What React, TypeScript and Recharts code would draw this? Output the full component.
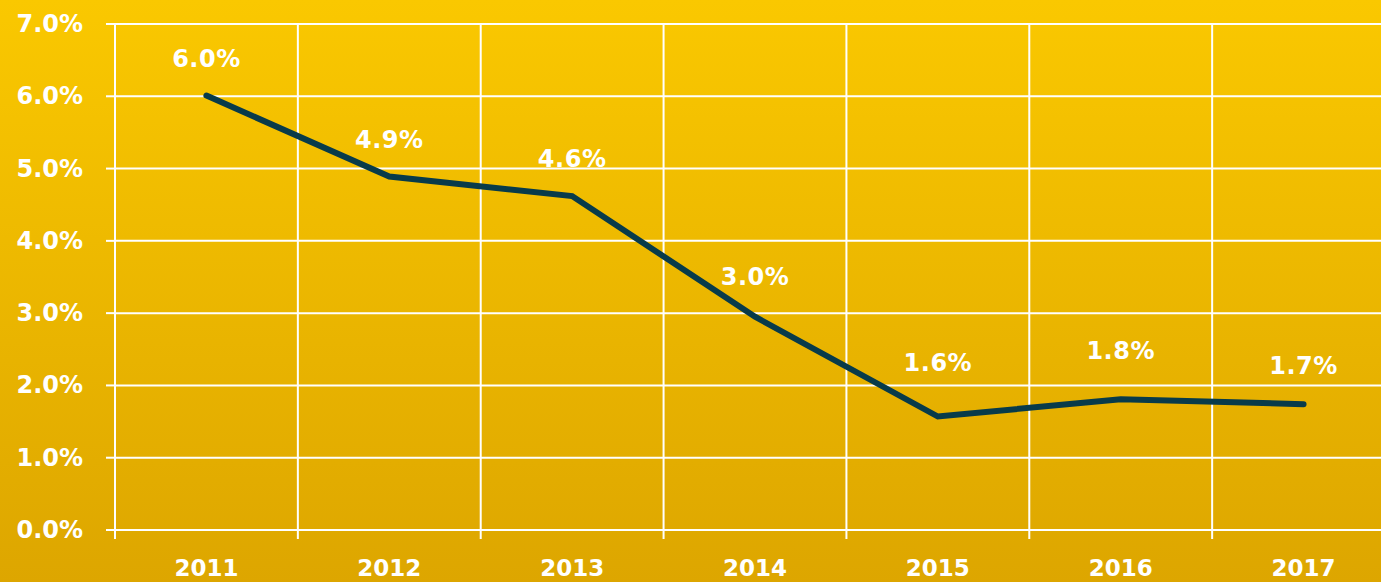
import { LineChart, Line, XAxis, YAxis, CartesianGrid, LabelList } from 'recharts';

const years = ['2011', '2012', '2013', '2014', '2015', '2016', '2017'];
const rates = [6.01, 4.89, 4.62, 2.95, 1.57, 1.81, 1.74];
const rateLabels = ['6.0%', '4.9%', '4.6%', '3.0%', '1.6%', '1.8%', '1.7%'];
const yTicks = [0, 1, 2, 3, 4, 5, 6, 7];

// how far each value label sits above its point (px)
const labelLift = [37, 37, 37, 40, 54, 48, 38];

const data = years.map((year, i) => ({ year, rate: rates[i], label: rateLabels[i] }));

const FONT = '"DejaVu Sans", sans-serif';
const WHITE = '#ffffff';

// grid lines on the band edges, not the band centres
function bandEdges({ offset }: any) {
  const band = offset.width / years.length;
  return years.map((_, i) => offset.left + i * band).concat(offset.left + offset.width);
}

function YearTick({ x, y, payload, width, visibleTicksCount }: any) {
  const half = typeof payload?.offset === 'number' && payload.offset > 0 ? payload.offset : width / visibleTicksCount / 2;
  const edge = x - half;
  const axisY = y - 29;
  return (
    <g>
      <line x1={edge} x2={edge} y1={axisY} y2={axisY + 9} stroke={WHITE} strokeWidth={2} />
      <text x={x} y={y + 17} textAnchor="middle" fill={WHITE} fontSize={23} fontWeight={700} fontFamily={FONT}>
        {payload.value}
      </text>
    </g>
  );
}

function RateTick({ x, y, payload }: any) {
  return (
    <text x={x} y={y} textAnchor="end" dominantBaseline="central" fill={WHITE} fontSize={24} fontWeight={700} fontFamily={FONT}>
      {`${Number(payload.value).toFixed(1)}%`}
    </text>
  );
}

function ValueLabel({ x, y, index, value }: any) {
  return (
    <text
      x={x}
      y={y - labelLift[index]}
      textAnchor="middle"
      dominantBaseline="central"
      fill={WHITE}
      fontSize={24}
      fontWeight={700}
      fontFamily={FONT}
      letterSpacing={0.5}
    >
      {value}
    </text>
  );
}

export default function App() {
  return (
    <div
      style={{
        position: 'absolute',
        left: 0,
        top: 0,
        width: 1381,
        height: 582,
        overflow: 'hidden',
        background: 'linear-gradient(180deg, #FAC800 0%, #DDA600 100%)',
      }}
    >
      <LineChart width={1400} height={582} data={data} margin={{ top: 24, right: 5, bottom: 0, left: 0 }}>
        <CartesianGrid stroke={WHITE} strokeWidth={2} verticalCoordinatesGenerator={bandEdges} />
        <XAxis
          dataKey="year"
          scale="band"
          tick={<YearTick />}
          tickLine={false}
          axisLine={false}
          tickSize={0}
          tickMargin={29}
          height={52}
          interval={0}
        />
        <YAxis
          domain={[0, 7]}
          ticks={yTicks}
          tick={<RateTick />}
          tickLine={{ stroke: WHITE, strokeWidth: 2 }}
          tickSize={9}
          tickMargin={23}
          axisLine={false}
          width={115}
        />
        <Line
          type="linear"
          dataKey="rate"
          stroke="#083B4A"
          strokeWidth={6}
          strokeLinecap="round"
          dot={false}
          activeDot={false}
          isAnimationActive={false}
        >
          <LabelList dataKey="label" content={<ValueLabel />} />
        </Line>
      </LineChart>
    </div>
  );
}
